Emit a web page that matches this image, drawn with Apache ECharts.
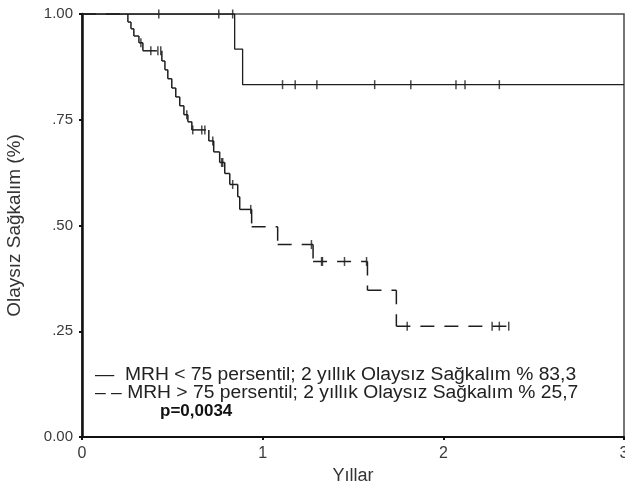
<!DOCTYPE html>
<html>
<head>
<meta charset="utf-8">
<script src="https://cdn.jsdelivr.net/npm/echarts@6/dist/echarts.min.js"></script>
<style>
html,body{margin:0;padding:0;background:#fff;}
#chart{width:625px;height:486px;}
</style>
</head>
<body>
<div id="chart"></div>
<script>
// ---- Data ----
// Group 1: MRH < 75 persentil (solid)
const lowT = [0, 0.845, 0.889, 3.0];
const lowS = [1.0, 0.917, 0.833, 0.833];
const lowCensorT = [0.425, 0.757, 0.834, 1.11, 1.18, 1.30, 1.62, 1.82, 2.07, 2.12, 2.31];

// Group 2: MRH > 75 persentil (dashed)
const highT = [0, 0.254, 0.271, 0.287, 0.315, 0.337, 0.442, 0.459, 0.475, 0.497, 0.519, 0.541, 0.564, 0.586, 0.608,
               0.702, 0.729, 0.762, 0.790, 0.818, 0.862, 0.873, 0.939, 1.083, 1.279, 1.580, 1.740, 2.365];
const highS = [1.0, 0.981, 0.965, 0.948, 0.932, 0.913, 0.889, 0.868, 0.847, 0.825, 0.804, 0.783, 0.762, 0.745, 0.726,
               0.700, 0.674, 0.649, 0.623, 0.597, 0.568, 0.538, 0.497, 0.455, 0.415, 0.347, 0.262, 0.262];
const highCensorT = [0.326, 0.381, 0.420, 0.436, 0.580, 0.613, 0.663, 0.680, 0.724, 0.773, 0.779, 0.834, 0.934,
                     1.270, 1.326, 1.331, 1.453, 1.575, 1.800, 2.270, 2.310, 2.362];

const yTickLabels = {'0': '0.00', '0.25': '.25', '0.5': '.50', '0.75': '.75', '1': '1.00'};
const legendLines = [
  '—  MRH < 75 persentil; 2 yıllık Olaysız Sağkalım % 83,3',
  '– – MRH > 75 persentil; 2 yıllık Olaysız Sağkalım % 25,7'
];
const pText = 'p=0,0034';

// ---- helpers ----
function survAt(T, S, t) {
  let v = S[0];
  for (let i = 0; i < T.length; i++) { if (T[i] <= t) v = S[i]; }
  return v;
}
const lowData = lowT.map((t, i) => [t, lowS[i]]);
const highData = highT.map((t, i) => [t, highS[i]]);
const lowCensor = lowCensorT.map(t => [t, survAt(lowT, lowS, t)]);
const highCensor = highCensorT.map(t => [t, survAt(highT, highS, t)]);

const LINE = '#1e1e1e';
const FONT = 'Liberation Sans';
const chart = echarts.init(document.getElementById('chart'), null, {renderer: 'canvas'});
chart.setOption({
  animation: false,
  backgroundColor: '#ffffff',
  grid: {left: 82, right: 1, top: 14, bottom: 49, show: true, borderColor: '#4a4a4a', borderWidth: 1.5,
         containLabel: false, outerBoundsMode: 'none'},
  xAxis: {
    type: 'value', min: 0, max: 3, interval: 1,
    axisLine: {show: true, onZero: false, lineStyle: {color: '#111', width: 2}},
    axisTick: {show: true, length: 3, lineStyle: {color: '#111', width: 2}},
    axisLabel: {color: '#3a3a3a', fontSize: 16, fontFamily: FONT, margin: 9},
    splitLine: {show: false},
    name: 'Yıllar', nameLocation: 'middle', nameGap: 30,
    nameTextStyle: {color: '#333', fontSize: 18, fontFamily: FONT}
  },
  yAxis: {
    type: 'value', min: 0, max: 1, interval: 0.25,
    axisLine: {show: true, lineStyle: {color: '#111', width: 2.5}},
    axisTick: {show: true, length: 3, lineStyle: {color: '#111', width: 2}},
    axisLabel: {color: '#3a3a3a', fontSize: 15, fontFamily: FONT, margin: 9,
      formatter: v => yTickLabels[String(v)] || ''},
    splitLine: {show: false},
    name: 'Olaysız Sağkalım (%)', nameLocation: 'middle', nameGap: 58, nameRotate: 90,
    nameTextStyle: {color: '#333', fontSize: 19, fontFamily: FONT}
  },
  series: [
    {
      type: 'line', step: 'end', data: lowData, showSymbol: false, symbol: 'none',
      lineStyle: {color: LINE, width: 1.3}, z: 3
    },
    {
      type: 'custom', data: highData, z: 3,
      renderItem: function (params, api) {
        const i = params.dataIndex;
        if (i >= highData.length - 1) return null;
        const p0 = api.coord([highData[i][0], highData[i][1]]);
        const p1 = api.coord([highData[i + 1][0], highData[i][1]]);
        const p2 = api.coord([highData[i + 1][0], highData[i + 1][1]]);
        const style = {stroke: LINE, lineWidth: 1.5, lineDash: [14, 10], fill: null};
        const children = [{type: 'line', shape: {x1: p0[0], y1: p0[1], x2: p1[0], y2: p1[1]}, style: style}];
        if (p2[1] !== p1[1]) children.push({type: 'line', shape: {x1: p1[0], y1: p1[1], x2: p2[0], y2: p2[1]}, style: style});
        return {type: 'group', children: children};
      }
    },
    {
      type: 'scatter', data: lowCensor, symbol: 'rect', symbolSize: [1.5, 9],
      itemStyle: {color: LINE}, z: 4, silent: true
    },
    {
      type: 'scatter', data: highCensor, symbol: 'rect', symbolSize: [1.5, 9],
      itemStyle: {color: LINE}, z: 4, silent: true
    }
  ],
  graphic: [
    {type: 'text', x: 95, y: 366, scaleX: 1.07, style: {text: legendLines[0], fontSize: 18, fontFamily: FONT, fill: '#222'}},
    {type: 'text', x: 95, y: 384, scaleX: 1.07, style: {text: legendLines[1], fontSize: 18, fontFamily: FONT, fill: '#222'}},
    {type: 'text', x: 160, y: 403, style: {text: pText, fontSize: 17, fontWeight: 'bold', fontFamily: FONT, fill: '#111'}}
  ]
});
</script>
</body>
</html>
